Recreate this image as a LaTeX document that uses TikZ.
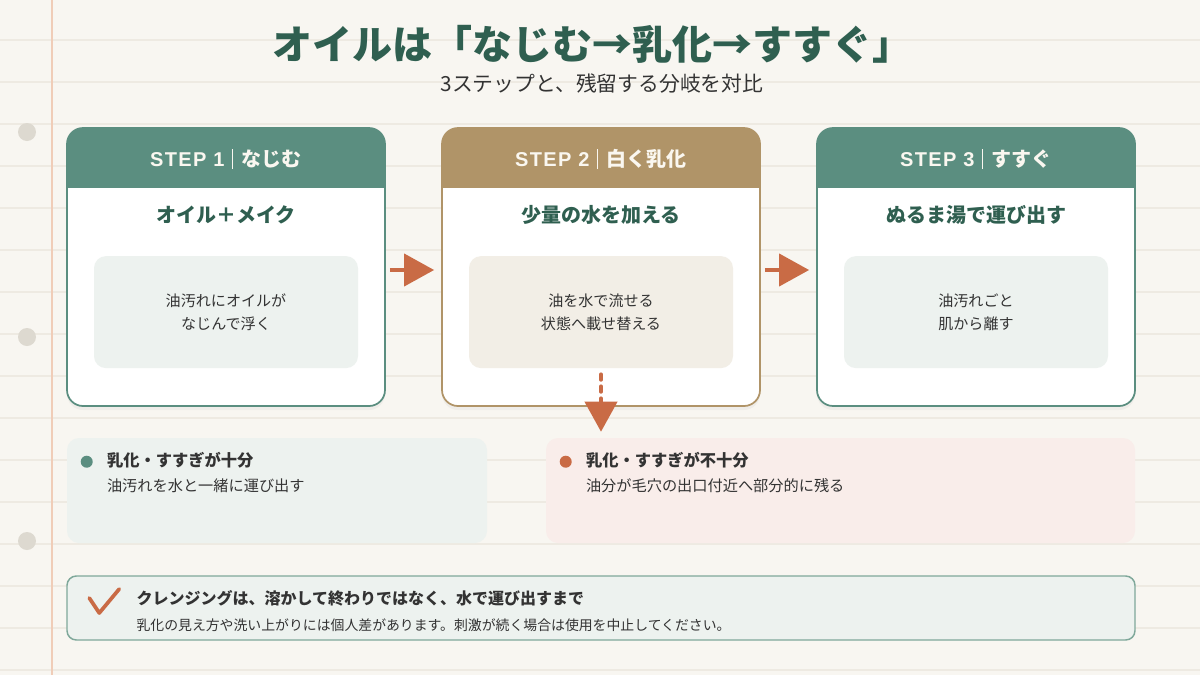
\documentclass[tikz,border=0pt]{standalone}
\usepackage{fontspec}
\setmainfont{Noto Sans CJK JP}
\newfontfamily\latfont{Liberation Sans Bold}[LetterSpace=7]
\usetikzlibrary{
  arrows.meta,
  calc,
  positioning,
  shadows
}
\newdimen\pxu \pxu=0.75pt
\definecolor{paper}{HTML}{F8F6F1}
\definecolor{ruling}{HTML}{EEEAE2}
\definecolor{margin}{HTML}{F0CDB8}
\definecolor{hole}{HTML}{DDD9D0}
\definecolor{sage}{HTML}{5B8E80}
\definecolor{sand}{HTML}{B09468}
\definecolor{pine}{HTML}{2F5F50}
\definecolor{rust}{HTML}{C96B45}
\definecolor{mist}{HTML}{EDF2EF}
\definecolor{cream}{HTML}{F2EEE6}
\definecolor{blush}{HTML}{F9EDEA}
\definecolor{frame}{HTML}{7FA89A}
\definecolor{ink}{HTML}{333333}
\definecolor{chalk}{HTML}{FAF7F0}
\newcommand\stepbar{\hspace{0.35em}\rule[-0.12em]{0.07em}{1.0em}\hspace{0.45em}}
\newcommand\steptag[2]{{\latfont STEP #1}\stepbar #2}
\tikzset{
  card/.style={
    draw=#1,
    fill=white,
    line width=1.3pt,
    rounded corners=12pt,
    minimum width=318\pxu,
    minimum height=278\pxu,
    inner sep=0pt,
    drop shadow={opacity=.07,shadow xshift=0pt,shadow yshift=-3pt},
    path picture={\fill[#1,sharp corners] (path picture bounding box.north west)
      rectangle ([yshift=-60\pxu]path picture bounding box.north east);}
  },
  headlabel/.style={font=\fontsize{15}{18}\selectfont\bfseries,text=chalk},
  cardtitle/.style={font=\fontsize{15}{18}\selectfont\bfseries,text=pine},
  inbox/.style={
    fill=#1,
    rounded corners=9pt,
    minimum width=264\pxu,
    minimum height=112\pxu,
    align=center,
    text=ink,
    font=\fontsize{11.3}{17.2}\selectfont
  },
  panel/.style={
    fill=#1,
    rounded corners=9pt,
    minimum height=105\pxu,
    inner sep=0pt
  },
  dot/.style={circle,fill=#1,inner sep=0pt,minimum size=12\pxu},
  panelhead/.style={anchor=west,inner sep=0pt,text=ink,font=\fontsize{12.2}{14}\selectfont\bfseries},
  panelbody/.style={anchor=west,inner sep=0pt,text=ink,font=\fontsize{11.4}{14}\selectfont},
  flow/.style={
    draw=rust,
    line width=3pt,
    -{Triangle[length=22.5pt,width=24pt]}
  },
  dashflow/.style={
    flow,
    line cap=round,
    dash pattern=on 4pt off 5pt
  }
}

\begin{document}
\begin{tikzpicture}[x=0.75pt,y=-0.75pt]
  \useasboundingbox (0,0) rectangle (1200,675);
  % notebook paper
  \fill[paper] (0,0) rectangle (1200,675);
  \foreach \ry in {40,82,...,670}
    \draw[ruling,line width=1.5pt] (0,\ry) -- (1200,\ry);
  \draw[margin,line width=1.1pt] (52,0) -- (52,675);
  \foreach \hy in {132,337,541}
    \fill[hole] (27,\hy) circle (9);

  \node[text=pine,font=\fontsize{30}{33}\selectfont\bfseries] (title) at (592,44)
    {オイルは「なじむ→乳化→すすぐ」};
  \node[text=ink,font=\fontsize{15.6}{18}\selectfont] (subtitle) at (602,84)
    {3ステップと、残留する分岐を対比};

  % steps
  \node[card=sage] (card1) at (226,267) {};
  \node[card=sand] (card2) at (601,267) {};
  \node[card=sage] (card3) at (976,267) {};

  \node[headlabel] (head1) at ([yshift=-32\pxu]card1.north) {\steptag{1}{なじむ}};
  \node[headlabel] (head2) at ([yshift=-32\pxu]card2.north) {\steptag{2}{白く乳化}};
  \node[headlabel] (head3) at ([yshift=-32\pxu]card3.north) {\steptag{3}{すすぐ}};

  \node[cardtitle] (what1) at ([yshift=-88\pxu]card1.north) {オイル＋メイク};
  \node[cardtitle] (what2) at ([yshift=-88\pxu]card2.north) {少量の水を加える};
  \node[cardtitle] (what3) at ([yshift=-88\pxu]card3.north) {ぬるま湯で運び出す};

  \node[inbox=mist] (in1) at ([yshift=-185\pxu]card1.north) {油汚れにオイルが\\なじんで浮く};
  \node[inbox=cream] (in2) at ([yshift=-185\pxu]card2.north) {油を水で流せる\\状態へ載せ替える};
  \node[inbox=mist] (in3) at ([yshift=-185\pxu]card3.north) {油汚れごと\\肌から離す};

  \draw[flow,shorten <=4\pxu,shorten >=7\pxu] ([yshift=-3\pxu]card1.east) -- ([yshift=-3\pxu]card2.west);
  \draw[flow,shorten <=4\pxu,shorten >=7\pxu] ([yshift=-3\pxu]card2.east) -- ([yshift=-3\pxu]card3.west);

  % outcomes
  \node[panel=mist,minimum width=420\pxu] (good) at (277,490.5) {};
  \node[panel=blush,minimum width=589\pxu] (bad) at (840.5,490.5) {};
  \draw[dashflow,shorten <=6\pxu,shorten >=6\pxu] (in2.south) -- (in2.south |- bad.north);

  \node[dot=sage] (gooddot) at ([shift={(20,24)}]good.north west) {};
  \node[panelhead] (goodhead) at ([shift={(40,22)}]good.north west) {乳化・すすぎが十分};
  \node[panelbody] (goodbody) at ([shift={(40,48)}]good.north west) {油汚れを水と一緒に運び出す};

  \node[dot=rust] (baddot) at ([shift={(20,24)}]bad.north west) {};
  \node[panelhead] (badhead) at ([shift={(40,22)}]bad.north west) {乳化・すすぎが不十分};
  \node[panelbody] (badbody) at ([shift={(40,48)}]bad.north west) {油分が毛穴の出口付近へ部分的に残る};

  % note
  \node[fill=mist,draw=frame,line width=1.1pt,rounded corners=7pt,
    minimum width=1068\pxu,minimum height=64\pxu] (note) at (601,608) {};
  \coordinate (tickA) at ([shift={(23,-10)}]note.west);
  \coordinate (tickB) at ([shift={(33,5)}]note.west);
  \coordinate (tickC) at ([shift={(53,-19)}]note.west);
  \draw[rust,line width=2.8pt,line cap=round,line join=round] (tickA) -- (tickB) -- (tickC);
  \node[anchor=west,inner sep=0pt,text=ink,font=\fontsize{12}{14}\selectfont\bfseries] (notehead)
    at ([shift={(70,-10)}]note.west) {クレンジングは、溶かして終わりではなく、水で運び出すまで};
  \node[anchor=west,inner sep=0pt,text=ink,font=\fontsize{10.4}{12}\selectfont] (notebody)
    at ([shift={(70,17)}]note.west) {乳化の見え方や洗い上がりには個人差があります。刺激が続く場合は使用を中止してください。};
\end{tikzpicture}
\end{document}
